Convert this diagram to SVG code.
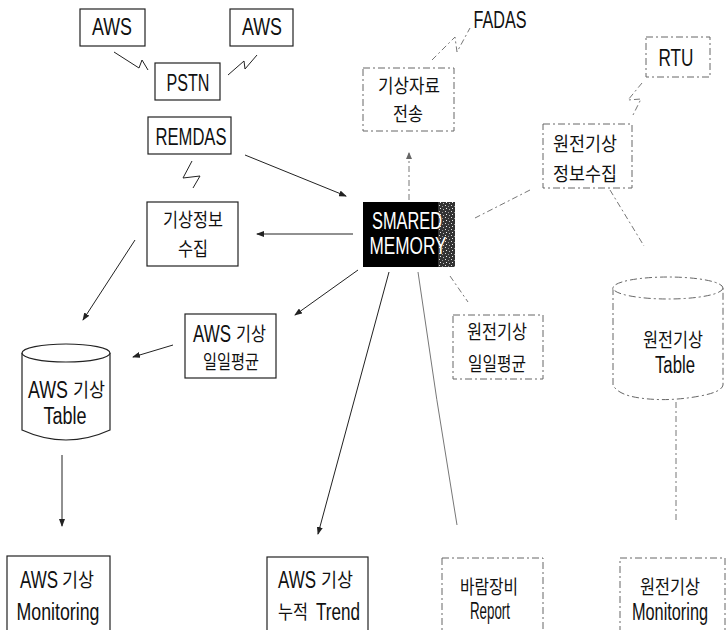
<svg xmlns="http://www.w3.org/2000/svg" width="726" height="630" viewBox="0 0 726 630">
<style>
.box{fill:#fff;stroke:#222;stroke-width:1.2}
.dbox{fill:#fff;stroke:#666;stroke-width:1;stroke-dasharray:7 3 2 3}
.t{font-family:"Liberation Sans",sans-serif;font-size:23px;fill:#111;text-anchor:middle}
.k{font-family:"Noto Sans CJK KR","Liberation Sans",sans-serif;font-size:19px;fill:#111;text-anchor:middle}
.w{fill:#fff}
.ln{fill:none;stroke:#222;stroke-width:1}
.dl{fill:none;stroke:#777;stroke-width:1;stroke-dasharray:6 3 2 3}
</style>
<defs>
<marker id="ah" markerWidth="8" markerHeight="6" refX="7" refY="3" orient="auto" markerUnits="userSpaceOnUse">
<path d="M0,0 L8,3 L0,6 z" fill="#222"/>
</marker>
<marker id="ahg" markerWidth="7" markerHeight="6" refX="6" refY="3" orient="auto" markerUnits="userSpaceOnUse">
<path d="M0,0 L7,3 L0,6 z" fill="#666"/>
</marker>
<pattern id="noise" width="6" height="6" patternUnits="userSpaceOnUse">
<rect width="6" height="6" fill="#333"/>
<rect x="1" y="1" width="1" height="1" fill="#ddd"/>
<rect x="4" y="2" width="1" height="1" fill="#999"/>
<rect x="2" y="4" width="1" height="1" fill="#eee"/>
<rect x="5" y="5" width="1" height="1" fill="#bbb"/>
</pattern>
</defs>

<g id="connectors">
<polyline class="ln" points="114,52 139,68 142,60 148,70"/>
<polyline class="ln" points="228,75 244,61 245,69 257,55"/>
<polyline class="ln" points="192,161 183,178 200,176 193,188"/>
<polyline class="dl" points="432,60 455,37 457,52 470,28"/>
<polyline class="dl" points="642,83 628,100 641,99 633,115"/>
<line class="ln" x1="245" y1="155" x2="346" y2="196" marker-end="url(#ah)"/>
<line class="ln" x1="353" y1="234" x2="257" y2="234" marker-end="url(#ah)"/>
<line class="ln" x1="135" y1="240" x2="83" y2="320" marker-end="url(#ah)"/>
<line class="ln" x1="358" y1="270" x2="295" y2="315" marker-end="url(#ah)"/>
<line class="ln" x1="173" y1="345" x2="133" y2="357" marker-end="url(#ah)"/>
<line class="ln" x1="62" y1="455" x2="62" y2="526" marker-end="url(#ah)"/>
<line class="ln" x1="389" y1="272" x2="318" y2="534" marker-end="url(#ah)"/>
<path d="M418,272 Q436,400 457,525" fill="none" stroke="#777" stroke-width="1"/>
<line class="dl" x1="409" y1="200" x2="409" y2="153" marker-end="url(#ahg)"/>
<line class="dl" x1="530" y1="190" x2="475" y2="218"/>
<line class="dl" x1="610" y1="190" x2="644" y2="246"/>
<line class="dl" x1="450" y1="276" x2="468" y2="302"/>
<line class="dl" x1="676" y1="402" x2="676" y2="520"/>
</g>

<g id="aws1"><rect class="box" x="80" y="9" width="65" height="37"/><text class="t" x="112" y="35" textLength="40" lengthAdjust="spacingAndGlyphs">AWS</text></g>
<g id="aws2"><rect class="box" x="230" y="9" width="63" height="37"/><text class="t" x="262" y="35" textLength="40" lengthAdjust="spacingAndGlyphs">AWS</text></g>
<g id="pstn"><rect class="box" x="155" y="63" width="65" height="37"/><text class="t" x="188" y="91" textLength="43" lengthAdjust="spacingAndGlyphs">PSTN</text></g>
<g id="remdas"><rect class="box" x="148" y="117" width="83" height="37"/><text class="t" x="191" y="145" textLength="71" lengthAdjust="spacingAndGlyphs">REMDAS</text></g>
<g id="fadas"><text class="t" x="500" y="28" textLength="53" lengthAdjust="spacingAndGlyphs">FADAS</text></g>
<g id="transmit"><rect class="dbox" x="363" y="68" width="91" height="63"/><text class="k" x="409" y="93" textLength="62" lengthAdjust="spacingAndGlyphs">기상자료</text><text class="k" x="408" y="121" textLength="30" lengthAdjust="spacingAndGlyphs">전송</text></g>
<g id="rtu"><rect class="dbox" x="646" y="37" width="64" height="40"/><text class="t" x="676" y="66" textLength="35" lengthAdjust="spacingAndGlyphs">RTU</text></g>
<g id="npcollect"><rect class="dbox" x="543" y="124" width="89" height="64"/><text class="k" x="585" y="151" textLength="64" lengthAdjust="spacingAndGlyphs">원전기상</text><text class="k" x="585" y="181" textLength="64" lengthAdjust="spacingAndGlyphs">정보수집</text></g>
<g id="shared"><rect x="363" y="202" width="90" height="65" fill="#000"/><rect x="438" y="202" width="17" height="65" fill="url(#noise)"/><text class="t w" x="407" y="229" textLength="70" lengthAdjust="spacingAndGlyphs">SMARED</text><text class="t w" x="408" y="254" textLength="77" lengthAdjust="spacingAndGlyphs">MEMORY</text></g>
<g id="collect"><rect class="box" x="147" y="202" width="91" height="64"/><text class="k" x="193" y="227" textLength="60" lengthAdjust="spacingAndGlyphs">기상정보</text><text class="k" x="193" y="256" textLength="30" lengthAdjust="spacingAndGlyphs">수집</text></g>
<g id="awsavg"><rect class="box" x="185" y="314" width="91" height="64"/><text class="t" x="212" y="342" textLength="38" lengthAdjust="spacingAndGlyphs">AWS</text><text class="k" x="251" y="341" textLength="30" lengthAdjust="spacingAndGlyphs">기상</text><text class="k" x="231" y="369" textLength="56" lengthAdjust="spacingAndGlyphs">일일평균</text></g>
<g id="npavg"><rect class="dbox" x="453" y="315" width="90" height="64"/><text class="k" x="497" y="339" textLength="60" lengthAdjust="spacingAndGlyphs">원전기상</text><text class="k" x="497" y="371" textLength="58" lengthAdjust="spacingAndGlyphs">일일평균</text></g>
<g id="awstable"><path class="box" d="M22,353 L22,430 Q66,450 110,430 L110,353"/><ellipse class="box" cx="66" cy="353" rx="44" ry="9"/><text class="t" x="48" y="398" textLength="40" lengthAdjust="spacingAndGlyphs">AWS</text><text class="k" x="89" y="397" textLength="32" lengthAdjust="spacingAndGlyphs">기상</text><text class="t" x="65" y="424" textLength="43" lengthAdjust="spacingAndGlyphs">Table</text></g>
<g id="nptable"><path class="dbox" d="M613,288 L613,385 Q618,395 640,398 Q668,402 700,396 Q722,392 723,385 L723,288"/><ellipse class="dbox" cx="668" cy="288" rx="55" ry="11"/><text class="k" x="673" y="347" textLength="60" lengthAdjust="spacingAndGlyphs">원전기상</text><text class="t" x="675" y="373" textLength="40" lengthAdjust="spacingAndGlyphs">Table</text></g>
<g id="awsmon"><rect class="box" x="7" y="556" width="103" height="90"/><text class="t" x="39" y="588" textLength="38" lengthAdjust="spacingAndGlyphs">AWS</text><text class="k" x="78" y="587" textLength="32" lengthAdjust="spacingAndGlyphs">기상</text><text class="t" x="58" y="620" textLength="83" lengthAdjust="spacingAndGlyphs">Monitoring</text></g>
<g id="trend"><rect class="box" x="267" y="557" width="101" height="90"/><text class="t" x="297" y="588" textLength="38" lengthAdjust="spacingAndGlyphs">AWS</text><text class="k" x="337" y="587" textLength="32" lengthAdjust="spacingAndGlyphs">기상</text><text class="k" x="293" y="619" textLength="30" lengthAdjust="spacingAndGlyphs">누적</text><text class="t" x="338" y="620" textLength="44" lengthAdjust="spacingAndGlyphs">Trend</text></g>
<g id="report"><rect class="dbox" x="442" y="558" width="101" height="90"/><text class="k" x="489" y="594" textLength="58" lengthAdjust="spacingAndGlyphs">바람장비</text><text class="t" x="490" y="619" textLength="40" lengthAdjust="spacingAndGlyphs">Report</text></g>
<g id="npmon"><rect class="dbox" x="620" y="558" width="105" height="90"/><text class="k" x="670" y="594" textLength="60" lengthAdjust="spacingAndGlyphs">원전기상</text><text class="t" x="670" y="620" textLength="76" lengthAdjust="spacingAndGlyphs">Monitoring</text></g>
</svg>
